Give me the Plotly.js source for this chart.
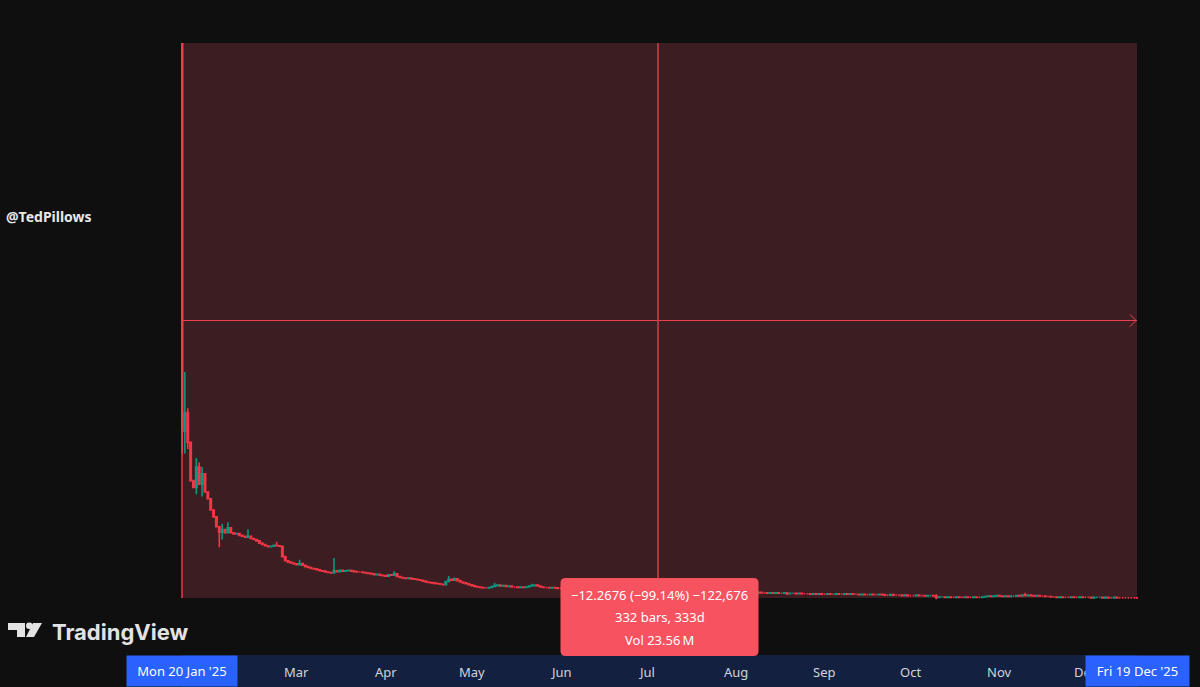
<!DOCTYPE html>
<html>
<head>
<meta charset="utf-8">
<script src="https://cdn.plot.ly/plotly-3.0.1.min.js"></script>
<style>
html,body{margin:0;padding:0;background:#0f0f0f;}
#chart{width:1200px;height:687px;}
</style>
</head>
<body>
<div id="chart"></div>
<script>
// ---- data ----
const startDate = '2025-01-20';
const endDate = '2025-12-19';
const startOpen = 12.374;
const endClose = 0.1064;
const closes = [
  3.80, 4.20, 3.55, 2.70, 2.55, 3.00, 2.62, 2.85, 2.45, 2.30,
  2.05, 1.90, 1.68, 1.56, 1.62, 1.55, 1.66, 1.55, 1.52, 1.53,
  1.49, 1.47, 1.45, 1.47, 1.42, 1.40, 1.37, 1.32, 1.29, 1.26,
  1.24, 1.25, 1.27, 1.26, 1.25, 1.02, 0.93, 0.90, 0.88, 0.86,
  0.84, 0.87, 0.83, 0.80, 0.78, 0.76, 0.75, 0.73, 0.71, 0.70,
  0.68, 0.67, 0.66, 0.71, 0.69, 0.72, 0.70, 0.71, 0.72, 0.70,
  0.69, 0.68, 0.68, 0.67, 0.66, 0.65, 0.64, 0.62, 0.63, 0.61,
  0.60, 0.59, 0.62, 0.61, 0.64, 0.58, 0.56, 0.55, 0.54, 0.55,
  0.53, 0.52, 0.51, 0.50, 0.48, 0.46, 0.45, 0.44, 0.43, 0.42,
  0.41, 0.40, 0.47, 0.52, 0.50, 0.53, 0.49, 0.46, 0.44, 0.42,
  0.40, 0.38, 0.36, 0.35, 0.34, 0.33, 0.33, 0.34, 0.36, 0.38,
  0.39, 0.37, 0.38, 0.36, 0.37, 0.35, 0.35, 0.34, 0.35, 0.34,
  0.35, 0.37, 0.38, 0.39, 0.37, 0.35, 0.34, 0.34, 0.33, 0.34,
  0.33, 0.32, 0.32, 0.31, 0.33, 0.32, 0.31, 0.30, 0.31, 0.30,
  0.29, 0.30, 0.29, 0.28, 0.29, 0.28, 0.27, 0.28, 0.27, 0.28,
  0.27, 0.26, 0.27, 0.26, 0.25, 0.26, 0.25, 0.26, 0.25, 0.24,
  0.25, 0.26, 0.28, 0.27, 0.26, 0.25, 0.26, 0.27, 0.29, 0.28,
  0.30, 0.29, 0.28, 0.27, 0.28, 0.27, 0.26, 0.27, 0.26, 0.25,
  0.26, 0.25, 0.24, 0.25, 0.24, 0.25, 0.24, 0.23, 0.24, 0.23,
  0.24, 0.23, 0.24, 0.23, 0.22, 0.23, 0.22, 0.23, 0.22, 0.22,
  0.22, 0.23, 0.22, 0.22, 0.21, 0.22, 0.21, 0.22, 0.21, 0.21,
  0.22, 0.20, 0.21, 0.21, 0.20, 0.21, 0.20, 0.20, 0.20, 0.19,
  0.20, 0.19, 0.20, 0.19, 0.19, 0.20, 0.19, 0.19, 0.20, 0.19,
  0.19, 0.20, 0.19, 0.20, 0.19, 0.19, 0.18, 0.19, 0.18, 0.18,
  0.19, 0.18, 0.18, 0.19, 0.18, 0.17, 0.17, 0.18, 0.17, 0.17,
  0.17, 0.16, 0.17, 0.16, 0.16, 0.16, 0.17, 0.16, 0.16, 0.15,
  0.16, 0.16, 0.15, 0.12, 0.13, 0.13, 0.12, 0.13, 0.12, 0.12,
  0.13, 0.12, 0.12, 0.13, 0.12, 0.12, 0.13, 0.12, 0.12, 0.13,
  0.14, 0.15, 0.14, 0.15, 0.16, 0.15, 0.14, 0.15, 0.14, 0.15,
  0.15, 0.16, 0.15, 0.17, 0.16, 0.17, 0.16, 0.15, 0.16, 0.15,
  0.15, 0.14, 0.14, 0.13, 0.13, 0.12, 0.13, 0.12, 0.12, 0.12,
  0.13, 0.12, 0.12, 0.13, 0.12, 0.12, 0.12, 0.11, 0.12, 0.12,
  0.12, 0.11, 0.12, 0.11, 0.11, 0.12, 0.11, 0.11, 0.11, 0.11,
  0.11, 0.11, 0.11, 0.1064
];
// notable wicks (null = none beyond body)
const wickDays  = [0,    1,   2,   5,   6,   7,    13,   14,   16,   23,   33,   41,   53,   74,   93,   95,   109,  122,  170,  211,  263,  294];
const wickHighs = [null, 5.1, 4.3, 3.2, 3.1, 3.0,  null, 1.75, 1.78, 1.62, 1.35, 0.95, 0.99, 0.70, 0.59, 0.56, 0.44, 0.42, 0.34, null, 0.19, 0.22];
const wickLows  = [3.3,  3.3, 3.4, 2.4, null,2.35, 1.23, 1.40, null, null, null, null, 0.64, null, null, null, null, null, null, 0.17, 0.08, null];

const monthLabels = ['Mar','Apr','May','Jun','Jul','Aug','Sep','Oct','Nov','Dec'];
const monthDates  = ['2025-03-01','2025-04-01','2025-05-01','2025-06-01','2025-07-01','2025-08-01','2025-09-01','2025-10-01','2025-11-01','2025-12-01'];
const startLabel = "Mon 20 Jan '25";
const endLabel = "Fri 19 Dec '25";
const tipLines = ['\u221212.2676 (\u221299.14%) \u2212122,676', '332 bars, 333d', 'Vol 23.56\u2009M'];
const handle = '@TedPillows';

// ---- build OHLC ----
const DAY = 86400000;
const t0 = Date.parse(startDate + 'T00:00:00Z');
function iso(ms){ return new Date(ms).toISOString().slice(0,19).replace('T',' '); }
const dates = closes.map((_, i) => iso(t0 + i * DAY));
const opens = closes.map((c, i) => i === 0 ? startOpen : closes[i-1]);
const highs = closes.map((c, i) => Math.max(opens[i], c));
const lows  = closes.map((c, i) => Math.min(opens[i], c));
wickDays.forEach((d, k) => {
  if (wickHighs[k] !== null) highs[d] = Math.max(highs[d], wickHighs[k]);
  if (wickLows[k] !== null) lows[d] = Math.min(lows[d], wickLows[k]);
});

const tEnd = Date.parse(endDate + 'T00:00:00Z');
const midMs = (t0 + tEnd) / 2;
const midDate = iso(midMs);
const vLineDate = iso(midMs - 0.52 * DAY);   // crosshair drawn on a pixel boundary
const midPrice = (startOpen + endClose) / 2;
const xRange = [iso(t0 - 0.35 * DAY), iso(tEnd + 0.35 * DAY)];

// pixel helpers for paper coords (plot: x 181..1138, y 43..600)
const PL = 181, PW = 957, PT = 43, PH = 557;
const px = v => (v - PL) / PW;
const py = v => (PT + PH - v) / PH;

const RED = '#f23645', GREEN = '#089981';
const LINE = '#f0404f';
const FONT = 'Noto Sans, DejaVu Sans, sans-serif';

const trace = {
  type: 'candlestick',
  x: dates, open: opens, high: highs, low: lows, close: closes,
  increasing: {line: {color: GREEN, width: 1.6}, fillcolor: GREEN},
  decreasing: {line: {color: RED, width: 1.6}, fillcolor: RED},
  whiskerwidth: 0,
  hoverinfo: 'skip',
  showlegend: false
};

const shapes = [
  {type: 'rect', xref: 'x', yref: 'y', x0: dates[0], x1: iso(tEnd), y0: endClose, y1: startOpen,
   fillcolor: '#3c1d21', line: {width: 0}, layer: 'below'},
  {type: 'rect', xref: 'x', yref: 'paper', x0: dates[0], x1: iso(tEnd), y0: py(687), y1: py(655),
   fillcolor: '#14203f', line: {width: 0}, layer: 'below'},
  {type: 'line', xref: 'x', yref: 'y', x0: dates[0], x1: dates[0], y0: endClose, y1: startOpen,
   line: {color: LINE, width: 1.4}, layer: 'above'},
  {type: 'line', xref: 'x', yref: 'y', x0: dates[0], x1: iso(tEnd), y0: midPrice, y1: midPrice,
   line: {color: LINE, width: 1}, layer: 'above'},
  {type: 'path', xref: 'x', yref: 'y', xsizemode: 'pixel', ysizemode: 'pixel',
   xanchor: iso(tEnd), yanchor: midPrice, path: 'M-7,-6 L-1,0 L-7,6',
   line: {color: LINE, width: 1}, layer: 'above'},
  {type: 'line', xref: 'x', yref: 'y', x0: vLineDate, x1: vLineDate, y0: endClose, y1: startOpen,
   line: {color: LINE, width: 1.3}, layer: 'above'},
  {type: 'path', xref: 'x', yref: 'paper', xsizemode: 'pixel', ysizemode: 'pixel',
   xanchor: midDate, yanchor: py(617),
   path: 'M-94,39 L94,39 Q99,39 99,34 L99,-34 Q99,-39 94,-39 L-94,-39 Q-99,-39 -99,-34 L-99,34 Q-99,39 -94,39 Z',
   fillcolor: '#f7525f', line: {width: 0}, layer: 'above'},
  {type: 'path', xref: 'paper', yref: 'paper', xsizemode: 'pixel', ysizemode: 'pixel',
   xanchor: px(8), yanchor: py(637), path: 'M0,14 L17,14 L17,0 L9,0 L9,7 L0,7 Z',
   fillcolor: '#e3e3e3', line: {width: 0}, layer: 'above'},
  {type: 'circle', xref: 'paper', yref: 'paper', xsizemode: 'pixel', ysizemode: 'pixel',
   xanchor: px(8), yanchor: py(637), x0: 18, x1: 24.5, y0: 8, y1: 14.5,
   fillcolor: '#e3e3e3', line: {width: 0}, layer: 'above'},
  {type: 'path', xref: 'paper', yref: 'paper', xsizemode: 'pixel', ysizemode: 'pixel',
   xanchor: px(8), yanchor: py(637), path: 'M25,14 L34,14 L26,0 L18,0 Z',
   fillcolor: '#e3e3e3', line: {width: 0}, layer: 'above'}
];

const annotations = [];
monthLabels.forEach((m, i) => annotations.push({
  xref: 'x', yref: 'paper', x: monthDates[i], y: py(672), text: m, showarrow: false,
  xanchor: 'center', yanchor: 'middle', font: {family: FONT, size: 13, color: '#d1d4dc'}
}));
annotations.push({
  xref: 'x', yref: 'paper', x: dates[0], y: py(671), text: startLabel, showarrow: false,
  xanchor: 'center', yanchor: 'middle', bgcolor: '#2962ff', borderpad: 6, width: 98, height: 18,
  font: {family: FONT, size: 13, color: '#ffffff'}
});
annotations.push({
  xref: 'x', yref: 'paper', x: iso(tEnd), y: py(671), text: endLabel, showarrow: false,
  xanchor: 'center', yanchor: 'middle', bgcolor: '#2962ff', borderpad: 6, width: 91, height: 18,
  font: {family: FONT, size: 13, color: '#ffffff'}
});
[595, 617, 640].forEach((yy, i) => annotations.push({
  xref: 'x', yref: 'paper', x: midDate, y: py(yy), text: tipLines[i], showarrow: false,
  xanchor: 'center', yanchor: 'middle', font: {family: FONT, size: 13, color: '#ffffff'}
}));
annotations.push({
  xref: 'paper', yref: 'paper', x: px(4), y: py(216), text: '<b>' + handle + '</b>', showarrow: false,
  xanchor: 'left', yanchor: 'middle', font: {family: FONT, size: 14, color: '#e8e8e8'}
});
annotations.push({
  xref: 'paper', yref: 'paper', x: px(50), y: py(632), text: '<b>TradingView</b>', showarrow: false,
  xanchor: 'left', yanchor: 'middle', font: {family: 'Inter, Noto Sans, sans-serif', size: 22, color: '#e3e3e3'}
});

const layout = {
  width: 1200, height: 687,
  margin: {l: PL, r: 1200 - PL - PW, t: PT, b: 687 - PT - PH, pad: 0},
  paper_bgcolor: '#0f0f0f', plot_bgcolor: '#0f0f0f',
  showlegend: false,
  xaxis: {type: 'date', range: xRange, showgrid: false, zeroline: false, showline: false,
          showticklabels: false, ticks: '', rangeslider: {visible: false}, fixedrange: true},
  yaxis: {range: [endClose - 0.0442, startOpen], showgrid: false, zeroline: false, showline: false,
          showticklabels: false, ticks: '', fixedrange: true},
  shapes: shapes,
  annotations: annotations
};

Plotly.newPlot('chart', [trace], layout, {displayModeBar: false, staticPlot: true});
</script>
</body>
</html>
